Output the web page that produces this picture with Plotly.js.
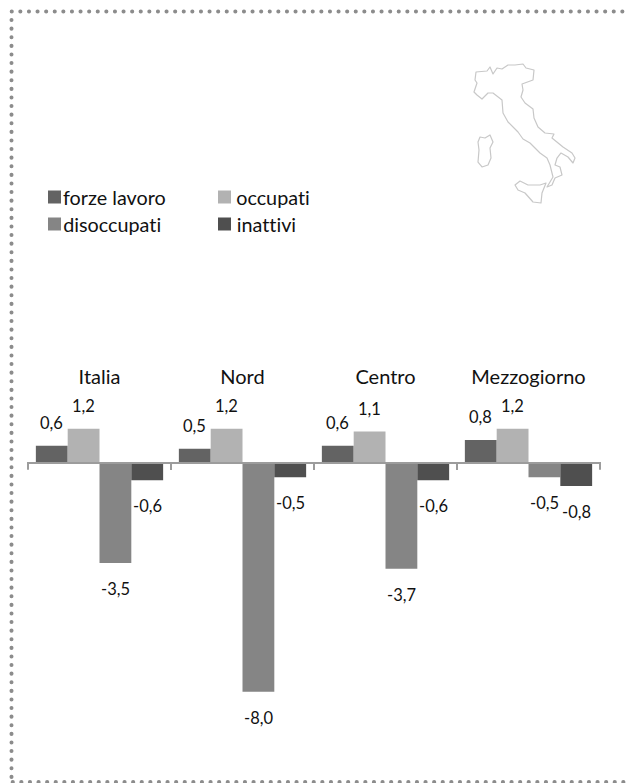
<!DOCTYPE html>
<html>
<head>
<meta charset="utf-8">
<script src="https://cdn.plot.ly/plotly-3.0.1.min.js"></script>
<style>
html,body{margin:0;padding:0;background:#fff}
#chart{width:628px;height:783px}
#chart text{font-variant-ligatures:none !important;font-feature-settings:"liga" 0,"clig" 0 !important}
#chart .shapelayer path{stroke-linecap:round !important;stroke-linejoin:round !important}
</style>
</head>
<body>
<div id="chart"></div>
<script>
var categories = ["Italia", "Nord", "Centro", "Mezzogiorno"];
var seriesNames = ["forze lavoro", "occupati", "disoccupati", "inattivi"];
var seriesColors = ["#636363", "#b2b2b2", "#858585", "#4f4f4f"];
var forzeLavoro = [0.6, 0.5, 0.6, 0.8];
var occupati = [1.2, 1.2, 1.1, 1.2];
var disoccupati = [-3.5, -8.0, -3.7, -0.5];
var inattivi = [-0.6, -0.5, -0.6, -0.8];
var seriesValues = [forzeLavoro, occupati, disoccupati, inattivi];

// Legend layout (page pixels): swatch left edge, text left edge and row centre of each entry
var legendX = [48, 218, 48, 218];
var legendTextX = [61, 234, 61, 235];
var legendRow = [197, 197, 224, 224];
var legendOrder = [0, 1, 2, 3];

// Decorative outline of Italy (page pixels)
var mainland = [[476,72],[487,71],[490,67],[493,74],[497,68],[502,69],[508,65],[515,65],[523,64],[526,68],[534,70],[533,80],[522,84],[523,90],[521,97],[525,103],[533,109],[534,118],[538,127],[545,133],[554,134],[552,138],[563,147],[572,153],[575,158],[573,163],[568,157],[561,153],[557,158],[555,165],[560,167],[562,175],[555,178],[552,185],[547,187],[553,177],[550,165],[547,158],[540,153],[535,148],[530,143],[523,139],[518,132],[508,122],[503,113],[502,100],[493,93],[488,93],[482,99],[477,95],[474,92],[477,83],[475,80],[476,72]];
var sardinia = [[480,137],[485,138],[490,135],[493,142],[490,148],[491,158],[488,165],[482,167],[478,162],[479,150],[478,142],[480,137]];
var sicily = [[515,185],[520,181],[528,185],[540,185],[546,183],[542,193],[541,203],[533,202],[525,193],[518,190],[515,185]];

var W = 628, H = 783;
var px = function (x) { return x / W; };
var py = function (y) { return 1 - y / H; };
var toPath = function (pts) {
  return pts.map(function (p, i) { return (i ? "L" : "M") + px(p[0]).toFixed(5) + "," + py(p[1]).toFixed(5); }).join(" ") + " Z";
};

var FONT = "Lato, 'Open Sans', sans-serif";
var zeroY = 463, unit = 28.6, topPx = 360, botPx = 740;

var traces = seriesNames.map(function (name, i) {
  return { type: "bar", name: name, x: categories, y: seriesValues[i],
    marker: { color: seriesColors[i], line: { width: 0 } }, hoverinfo: "x+y+name", showlegend: false, cliponaxis: false };
});

var annotations = [];
var groupW = 143, barGap = 0.11, barW = groupW * (1 - barGap) / 4;
seriesValues.forEach(function (vals, s) {
  vals.forEach(function (v, c) {
    annotations.push({
      x: categories[c], y: v, xref: "x", yref: "y", showarrow: false,
      text: v.toFixed(1).replace(".", ","),
      font: { family: FONT, size: 16.5, color: "#111" },
      xshift: (s - 1.5) * barW, yshift: v >= 0 ? 23 : -26,
      xanchor: "center", yanchor: "middle"
    });
  });
});
legendOrder.forEach(function (s) {
  annotations.push({
    xref: "paper", yref: "paper", x: px(legendTextX[s]), y: py(legendRow[s]),
    xanchor: "left", yanchor: "middle", showarrow: false, text: seriesNames[s],
    font: { family: FONT, size: 19.8, color: "#111" }
  });
});

var borderLine = { color: "#8c8c8c", width: 4, dash: "0.1px,8.5px" };
var tickLine = { color: "#9c9c9c", width: 2 };
var shapes = [
  { type: "line", xref: "paper", yref: "paper", x0: px(11.7), x1: px(628), y0: py(11.5), y1: py(11.5), line: borderLine },
  { type: "line", xref: "paper", yref: "paper", x0: px(11.5), x1: px(11.5), y0: py(20), y1: py(778), line: borderLine },
  { type: "line", xref: "paper", yref: "paper", x0: px(12.7), x1: px(628), y0: py(782), y1: py(782), line: borderLine },
  { type: "line", xref: "paper", yref: "paper", x0: px(28), x1: px(28), y0: py(463), y1: py(469), line: tickLine },
  { type: "line", xref: "paper", yref: "paper", x0: px(600), x1: px(600), y0: py(463), y1: py(469), line: tickLine }
];
[mainland, sardinia, sicily].forEach(function (pts) {
  shapes.push({ type: "path", xref: "paper", yref: "paper", path: toPath(pts), line: { color: "#c8c8c8", width: 1.2 } });
});
legendOrder.forEach(function (s) {
  shapes.push({ type: "rect", xref: "paper", yref: "paper",
    x0: px(legendX[s]), x1: px(legendX[s] + 13), y0: py(legendRow[s] - 6.5), y1: py(legendRow[s] + 6.5),
    fillcolor: seriesColors[s], line: { width: 0 } });
});

var layout = {
  width: W, height: H,
  margin: { l: 0, r: 0, t: 0, b: 0, pad: 0 },
  paper_bgcolor: "#fff", plot_bgcolor: "rgba(0,0,0,0)",
  barmode: "group", bargap: barGap, bargroupgap: 0,
  showlegend: false,
  font: { family: FONT, color: "#111" },
  xaxis: {
    domain: [27.285 / W, 600.715 / W], type: "category", categoryorder: "array", categoryarray: categories,
    range: [-0.505, 3.505],
    anchor: "free", position: 1 - zeroY / H, side: "top",
    showline: true, linecolor: "#9c9c9c", linewidth: 2, showgrid: false, zeroline: false,
    ticks: "inside", tickson: "boundaries", ticklen: 6, tickcolor: "#9c9c9c", tickwidth: 2,
    tickfont: { family: FONT, size: 20, color: "#111" }, ticklabelstandoff: 70
  },
  yaxis: {
    domain: [1 - botPx / H, 1 - topPx / H],
    range: [-(botPx - zeroY) / unit, (zeroY - topPx) / unit],
    visible: false, zeroline: false, showgrid: false, fixedrange: true
  },
  annotations: annotations,
  shapes: shapes
};
Plotly.newPlot("chart", traces, layout, { displayModeBar: false, staticPlot: true });
</script>
</body>
</html>
